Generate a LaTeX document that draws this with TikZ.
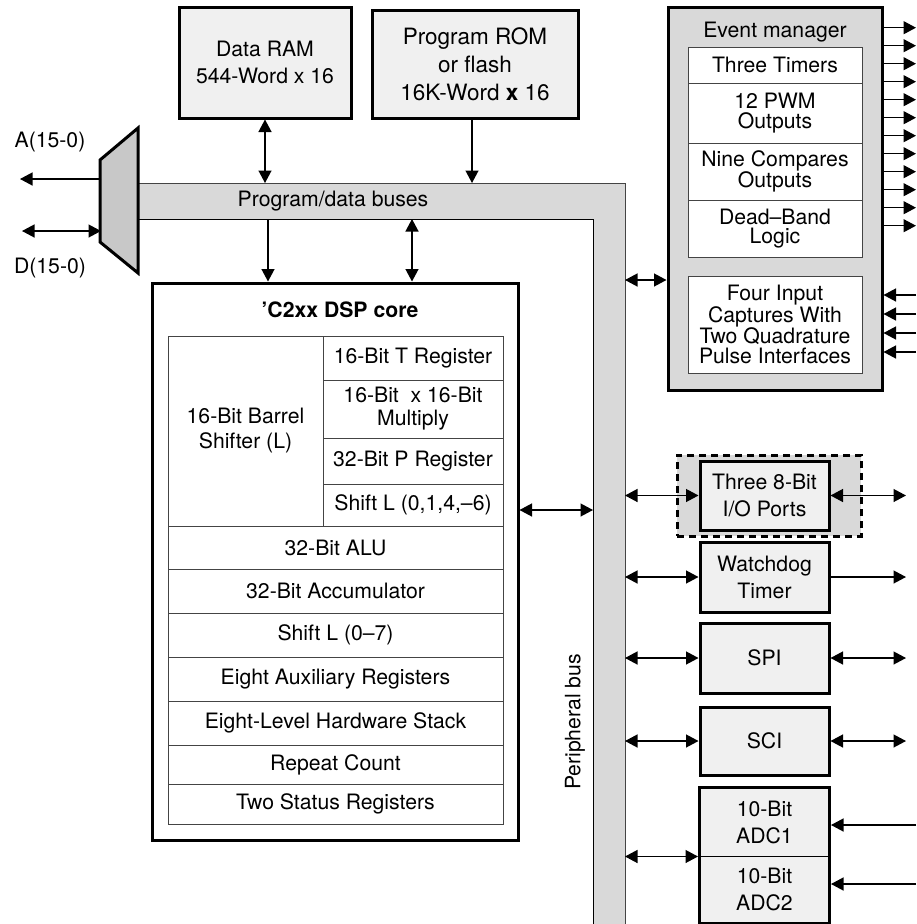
\documentclass[tikz,border=0pt]{standalone}
\usepackage{fontspec}
\setmainfont{TeX Gyre Heros}
\usetikzlibrary{arrows.meta,fit}
\definecolor{boxfill}{HTML}{F0F0F0}
\definecolor{busfill}{HTML}{D9D9D9}
\definecolor{muxfill}{HTML}{C8C8C8}
\definecolor{linegray}{HTML}{444444}
\begin{document}
\begin{tikzpicture}[x=1pt,y=-1pt,
  font=\fontsize{21.2}{27}\selectfont,
  >={Triangle[length=12.5pt,width=13pt]},
  arr/.style={->,line width=1.3pt},
  dbl/.style={<->,line width=1.3pt},
  blk/.style={draw,line width=3pt,fill=boxfill,align=center,inner sep=0pt},
  cell/.style={draw=linegray,line width=1pt,fill=white,align=center,inner sep=0pt},
  emcell/.style={cell,minimum width=174,font=\fontsize{21.2}{19.5}\selectfont},
  corerow/.style={cell,minimum width=335},
  rcell/.style={cell,minimum width=180},
  perbox/.style={blk,minimum width=129}]
\useasboundingbox (0,0) rectangle (916,924);

% ---------- buses ----------
\fill[busfill] (138,183) -- (625,183) -- (625,924) -- (593,924) -- (593,219) -- (138,219) -- cycle;
\draw[linegray,line width=1pt] (138,183) -- (625,183) -- (625,924);
\draw[black,line width=1pt] (138,219) -- (593,219) -- (593,924);
\node (busLabel) at (333,201) {Program/data buses};
\node[rotate=90] (pbLabel) at (575,722) {Peripheral bus};
\coordinate (busTop) at (0,183);
\coordinate (busBot) at (0,219);
\coordinate (busL) at (593,0);
\coordinate (busR) at (625,0);

% ---------- mux ----------
\draw[line width=3pt,fill=muxfill] (100,160) -- (138,128) -- (138,273) -- (100,242) -- cycle;
\coordinate (muxA) at (101,179);
\coordinate (muxD) at (101,231);
\coordinate (aEnd) at (20,179);
\coordinate (dEnd) at (22,231);
\draw[arr] (muxA) -- (aEnd);
\draw[dbl] (dEnd) -- (muxD);
\node (alabel) at (50,142) {A(15-0)};
\node (dlabel) at (50,268) {D(15-0)};

% ---------- memories ----------
\node[blk,minimum width=172,minimum height=111] (ram) at (265,62.5) {Data RAM\\544-Word x 16};
\node[blk,minimum width=206,minimum height=108,font=\fontsize{22.5}{28}\selectfont] (rom) at (475,64) {Program ROM\\or flash\\16K-Word \textbf{x} 16};
\draw[dbl] (ram.south) -- (ram.south |- busTop);
\coordinate (romx) at (472,0);
\draw[arr] (romx |- rom.south) -- (romx |- busTop);

% ---------- DSP core ----------
\node[draw,line width=3pt,fill=white,minimum width=366,minimum height=557] (core) at (335,561.5) {};
\node[font=\fontsize{21.2}{27}\selectfont\bfseries] (coretitle) at (340,310) {'C2xx DSP core};
\node[cell,minimum width=155,minimum height=190,font=\fontsize{21.2}{25}\selectfont] (barrel) at (245.5,431) {16-Bit Barrel\\Shifter (L)};
\node[rcell,minimum height=44] (treg) at (413,358) {16-Bit T Register};
\node[rcell,minimum height=58,font=\fontsize{21.2}{23}\selectfont] (mult) at (413,409) {16-Bit\ \ x\ 16-Bit\\Multiply};
\node[rcell,minimum height=46] (preg) at (413,461) {32-Bit P Register};
\node[rcell,minimum height=42] (shl) at (413,505) {Shift L (0,1,4,–6)};
\node[corerow,minimum height=43] (alu) at (335.5,547.5) {32-Bit ALU};
\node[corerow,minimum height=44] (acc) at (335.5,591) {32-Bit Accumulator};
\node[corerow,minimum height=44] (sh7) at (335.5,635) {Shift L (0–7)};
\node[corerow,minimum height=44] (aux) at (335.5,679) {Eight Auxiliary Registers};
\node[corerow,minimum height=44] (stack) at (335.5,723) {Eight-Level Hardware Stack};
\node[corerow,minimum height=39] (rep) at (335.5,764.5) {Repeat Count};
\node[corerow,minimum height=40] (stat) at (335.5,804) {Two Status Registers};

\coordinate (c1) at (268,0);
\coordinate (c2) at (412,0);
\draw[arr] (c1 |- busBot) -- (c1 |- core.north);
\draw[dbl] (c2 |- busBot) -- (c2 |- core.north);
\coordinate (cy) at (0,510);
\draw[dbl] (core.east |- cy) -- (busL |- cy);

% ---------- event manager ----------
\node[draw,line width=3pt,fill=busfill,minimum width=214,minimum height=383] (em) at (775,198.5) {};
\node (emtitle) at (775,32) {Event manager};
\node[emcell,minimum height=36] (tt) at (775,65) {Three Timers};
\node[emcell,minimum height=60] (pwm) at (775,113) {12 PWM\\Outputs};
\node[emcell,minimum height=57] (cmp) at (775,171.5) {Nine Compares\\Outputs};
\node[emcell,minimum height=57] (db) at (775,228.5) {Dead–Band\\Logic};
\node[emcell,minimum height=97] (cap) at (775,324.5) {Four Input\\Captures With\\Two Quadrature\\Pulse Interfaces};
\coordinate (emy) at (0,280);
\draw[dbl] (busR |- emy) -- (em.west |- emy);
\foreach \i in {0,...,11} {
  \coordinate (emo\i) at (916,{27.7+18*\i});
  \draw[arr] (em.east |- emo\i) -- (emo\i);
}
\foreach \yy [count=\i] in {295,314,333,352} {
  \coordinate (emi\i) at (916,\yy);
  \draw[arr] (emi\i) -- (em.east |- emi\i);
}

% ---------- peripherals ----------
\node[draw,line width=3pt,fill=busfill,dash pattern=on 7pt off 5pt,minimum width=184,minimum height=81] (iobg) at (769,495.5) {};
\node[perbox,minimum height=69] (io) at (764.5,495.5) {Three 8-Bit\\I/O Ports};
\node[perbox,minimum height=70] (wd) at (764.5,577) {Watchdog\\Timer};
\node[perbox,minimum height=70] (spi) at (764.5,658) {SPI};
\node[perbox,minimum height=68] (sci) at (764.5,741) {SCI};
\node[cell,draw=black,fill=boxfill,minimum width=129,minimum height=68] (adc1) at (764.5,822) {10-Bit\\ADC1};
\node[cell,draw=black,fill=boxfill,minimum width=129,minimum height=67] (adc2) at (764.5,889.5) {10-Bit\\ADC2};
\node[draw,line width=3pt,inner sep=0pt,fit=(adc1)(adc2)] (adc) {};

\coordinate (ioOut) at (906,495.5);
\coordinate (wdOut) at (906,577);
\coordinate (spiOut) at (906,658);
\coordinate (sciOut) at (906,741);
\coordinate (ai1) at (916,825);
\coordinate (ai2) at (916,884);

\draw[dbl] (busR |- io.west) -- (io.west);
\draw[dbl] (io.east) -- (ioOut);
\draw[dbl] (busR |- wd.west) -- (wd.west);
\draw[arr] (wd.east) -- (wdOut);
\draw[dbl] (busR |- spi.west) -- (spi.west);
\draw[dbl] (spi.east) -- (spiOut);
\draw[dbl] (busR |- sci.west) -- (sci.west);
\draw[dbl] (sci.east) -- (sciOut);
\draw[dbl] (busR |- adc1.south) -- (adc.west |- adc1.south);
\draw[arr] (ai1) -- (adc.east |- ai1);
\draw[arr] (ai2) -- (adc.east |- ai2);
\end{tikzpicture}
\end{document}
